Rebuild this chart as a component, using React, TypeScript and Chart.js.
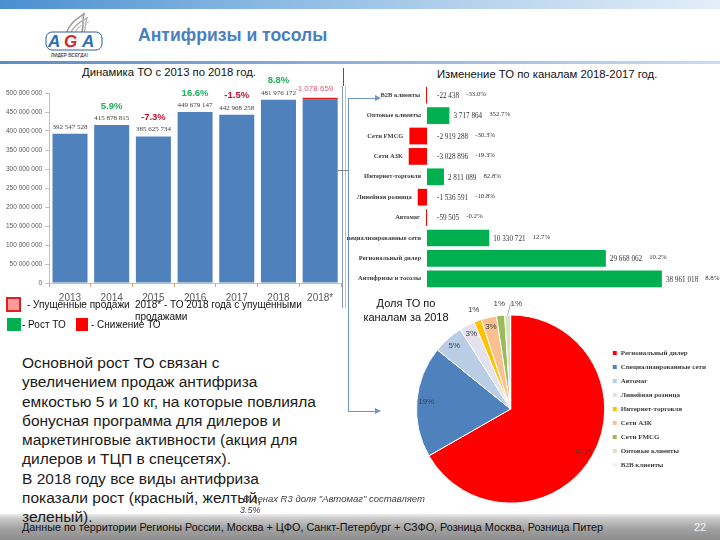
import React, { useEffect, useRef } from 'react';
import { Chart, registerables } from 'chart.js';

Chart.register(...registerables);

// ---------- DATA ----------
const years = ['2013', '2014', '2015', '2016', '2017', '2018', '2018*'];
const turnover = [392547528, 415878815, 385625734, 449679147, 442968258, 481976172, 481976172];
const lostSales = [null, null, null, null, null, null, 1078659];
const growthLabels = ['', '5.9%', '-7.3%', '16.6%', '-1.5%', '8.8%', ''];
const yMax = 500000000;
const yStep = 50000000;

const channels = [
  'B2B клиенты',
  'Оптовые клиенты',
  'Сети FMCG',
  'Сети АЗК',
  'Интернет-торговля',
  'Линейная розница',
  'Автомаг',
  'Специализированные сети',
  'Региональный дилер',
  'Антифризы и тосолы',
];
const channelDelta = [-22438, 3717864, -2919288, -3028896, 2811089, -1536591, -59505, 10330721, 29668062, 38961018];
const channelDeltaPct = ['-33.0%', '352.7%', '-30.3%', '-19.3%', '82.8%', '-10.8%', '-0.2%', '12.7%', '10.2%', '8.8%'];

const shareChannels = [
  'Региональный дилер',
  'Специализированные сети',
  'Автомаг',
  'Линейная розница',
  'Интернет-торговля',
  'Сети АЗК',
  'Сети FMCG',
  'Оптовые клиенты',
  'B2B клиенты',
];
const share2018 = [320.5, 91.7, 25.0, 12.7, 6.2, 12.7, 6.7, 4.8, 0.05];
const shareColors = ['#ff0000', '#4f81bd', '#b9cde5', '#e4e2ee', '#ffc000', '#fac090', '#9bbb59', '#d7e4bd', '#f2f2f2'];

const mainText = [
  'Основной рост ТО связан с',
  'увеличением продаж антифриза',
  'емкостью 5 и 10 кг, на которые повлияла',
  'бонусная программа для дилеров и',
  'маркетинговые активности (акция для',
  'дилеров и ТЦП в спецсетях).',
  'В 2018 году все виды антифриза',
  'показали рост (красный, желтый,',
  'зеленый).',
];

// ---------- HELPERS ----------
function fmt(n: number): string {
  const s = Math.abs(Math.round(n)).toString().replace(/\B(?=(\d{3})+(?!\d))/g, ' ');
  return (n < 0 ? '-' : '') + s;
}

const SANS = '"Liberation Sans", Arial, sans-serif';
const SERIF = '"Liberation Serif", "Times New Roman", serif';

// ---------- LEFT BAR CHART ----------
const barLabelsPlugin = {
  id: 'barLabels',
  afterDatasetsDraw(chart: any) {
    const ctx = chart.ctx;
    const m0 = chart.getDatasetMeta(0);
    const m1 = chart.getDatasetMeta(1);
    ctx.save();
    ctx.textAlign = 'center';
    ctx.textBaseline = 'middle';
    m0.data.forEach((bar: any, i: number) => {
      const lost = lostSales[i];
      if (lost) {
        const rb = m1.data[i];
        ctx.font = `8px ${SANS}`;
        ctx.fillStyle = '#e0566c';
        ctx.fillText('-' + fmt(lost), rb.x - 6, rb.y - 9);
        return;
      }
      ctx.font = `7px ${SERIF}`;
      ctx.fillStyle = '#404040';
      ctx.fillText(fmt(turnover[i]), bar.x, bar.y - 7);
      const g = growthLabels[i];
      if (g) {
        ctx.font = `bold 9.5px ${SANS}`;
        ctx.fillStyle = g.startsWith('-') ? '#c8102e' : '#1fae5b';
        ctx.fillText(g, bar.x, bar.y - 19);
      }
    });
    ctx.restore();
  },
};

function TurnoverChart() {
  const ref = useRef<HTMLCanvasElement>(null);
  useEffect(() => {
    if (!ref.current) return;
    const chart = new Chart(ref.current, {
      type: 'bar',
      data: {
        labels: years,
        datasets: [
          {
            label: 'ТО',
            data: turnover,
            backgroundColor: '#4f81bd',
            borderWidth: 0,
            barPercentage: 0.84,
            categoryPercentage: 1,
          },
          {
            label: 'Упущенные продажи',
            data: lostSales as any,
            backgroundColor: '#e02020',
            borderWidth: 0,
            minBarLength: 2,
            barPercentage: 0.84,
            categoryPercentage: 1,
          },
        ],
      },
      options: {
        responsive: false,
        animation: false,
        layout: { padding: { top: 25, left: 3, right: 4, bottom: 2 } },
        plugins: { legend: { display: false }, tooltip: { enabled: false } },
        scales: {
          x: {
            stacked: true,
            grid: { display: true, drawOnChartArea: false, drawTicks: true, tickLength: 4, color: '#d9a070' },
            border: { color: '#bfbfbf' },
            ticks: { color: '#595959', font: { size: 10, family: SANS }, padding: 5 },
          },
          y: {
            stacked: true,
            min: 0,
            max: yMax,
            grid: { display: true, drawOnChartArea: false, drawTicks: true, tickLength: 4, color: '#bfbfbf' },
            border: { color: '#bfbfbf' },
            ticks: {
              stepSize: yStep,
              color: '#595959',
              font: { size: 6.5, family: SANS },
              padding: 3,
              callback: (v: any) => fmt(Number(v)),
            },
          },
        },
      },
      plugins: [barLabelsPlugin],
    });
    return () => chart.destroy();
  }, []);
  return <canvas ref={ref} width={345} height={243} style={{ position: 'absolute', left: 0, top: 68 }} />;
}

// ---------- CHANNEL CHANGE (HORIZONTAL) ----------
const channelLabelsPlugin = {
  id: 'channelLabels',
  afterDatasetsDraw(chart: any) {
    const ctx = chart.ctx;
    const meta = chart.getDatasetMeta(0);
    const zero = chart.scales.x.getPixelForValue(0);
    ctx.save();
    ctx.textBaseline = 'middle';
    meta.data.forEach((bar: any, i: number) => {
      const v = channelDelta[i];
      const left = Math.min(zero, bar.x);
      const right = Math.max(zero, bar.x);
      ctx.font = `bold 6.5px ${SERIF}`;
      ctx.fillStyle = '#404040';
      ctx.textAlign = 'right';
      ctx.fillText(channels[i], left - 6, bar.y);
      ctx.textAlign = 'left';
      ctx.font = `7.2px ${SERIF}`;
      ctx.fillStyle = '#333333';
      const vx = v >= 0 ? right + 4 : zero + 10;
      const txt = fmt(v);
      ctx.fillText(txt, vx, bar.y + 1);
      const w = ctx.measureText(txt).width;
      ctx.font = `6.8px ${SERIF}`;
      ctx.fillText(channelDeltaPct[i], vx + w + 7, bar.y - 1);
    });
    ctx.restore();
  },
};

function ChannelChangeChart() {
  const ref = useRef<HTMLCanvasElement>(null);
  useEffect(() => {
    if (!ref.current) return;
    const chart = new Chart(ref.current, {
      type: 'bar',
      data: {
        labels: channels,
        datasets: [
          {
            data: channelDelta,
            backgroundColor: channelDelta.map((v) => (v >= 0 ? '#00b050' : '#ff0000')),
            borderWidth: 0,
            barPercentage: 0.82,
            categoryPercentage: 1,
            minBarLength: 1,
          },
        ],
      },
      options: {
        indexAxis: 'y',
        responsive: false,
        animation: false,
        layout: { padding: 0 },
        plugins: { legend: { display: false }, tooltip: { enabled: false } },
        scales: {
          x: { display: false, min: -13600000, max: 48600000 },
          y: { display: false },
        },
      },
      plugins: [channelLabelsPlugin],
    });
    return () => chart.destroy();
  }, []);
  return <canvas ref={ref} width={375} height={204} style={{ position: 'absolute', left: 345, top: 85 }} />;
}

// ---------- SHARE PIE ----------
const pieLabelsPlugin = {
  id: 'pieLabels',
  afterDatasetsDraw(chart: any) {
    const ctx = chart.ctx;
    const meta = chart.getDatasetMeta(0);
    const total = share2018.reduce((a, b) => a + b, 0);
    ctx.save();
    ctx.font = `8px ${SANS}`;
    ctx.fillStyle = '#404040';
    ctx.textAlign = 'center';
    ctx.textBaseline = 'middle';
    let lastSmallX = -Infinity;
    meta.data.forEach((arc: any, i: number) => {
      const p = Math.round((share2018[i] / total) * 100);
      if (p < 1) return;
      const { x, y, startAngle, endAngle, outerRadius } = arc.getProps(
        ['x', 'y', 'startAngle', 'endAngle', 'outerRadius'],
        true
      );
      const mid = (startAngle + endAngle) / 2;
      const small = share2018[i] / total < 0.02;
      const rr = small ? outerRadius * 1.12 : outerRadius * 0.9;
      let lx = x + Math.cos(mid) * rr;
      const ly = y + Math.sin(mid) * rr;
      if (small) {
        if (lx < lastSmallX + 17) {
          const ex = x + Math.cos(mid) * outerRadius;
          const ey = y + Math.sin(mid) * outerRadius;
          lx = lastSmallX + 17;
          ctx.strokeStyle = '#8c8c8c';
          ctx.lineWidth = 0.7;
          ctx.beginPath();
          ctx.moveTo(ex, ey);
          ctx.lineTo(lx - 6, ly + 1);
          ctx.lineTo(lx - 5, ly - 1);
          ctx.stroke();
        }
        lastSmallX = lx;
      }
      ctx.fillText(p + '%', lx, ly);
    });
    ctx.restore();
  },
};

function ShareChart() {
  const ref = useRef<HTMLCanvasElement>(null);
  useEffect(() => {
    if (!ref.current) return;
    const chart = new Chart(ref.current, {
      type: 'pie',
      data: {
        labels: shareChannels,
        datasets: [
          {
            data: share2018,
            backgroundColor: shareColors,
            borderColor: '#ffffff',
            borderWidth: 1,
          },
        ],
      },
      options: {
        responsive: false,
        animation: false,
        layout: { padding: { top: 18, bottom: 10, left: 2, right: 4 } },
        plugins: {
          tooltip: { enabled: false },
          legend: {
            position: 'right',
            align: 'center',
            labels: {
              boxWidth: 5,
              boxHeight: 5,
              padding: 7,
              color: '#404040',
              font: { size: 7, family: SERIF, weight: 'bold' },
            },
          },
        },
      },
      plugins: [pieLabelsPlugin],
    });
    return () => chart.destroy();
  }, []);
  return <canvas ref={ref} width={306} height={218} style={{ position: 'absolute', left: 414, top: 296 }} />;
}

// ---------- SLIDE ----------
const abs = (l: number, t: number, extra: React.CSSProperties = {}): React.CSSProperties => ({
  position: 'absolute',
  left: l,
  top: t,
  ...extra,
});

function Arrow({ x, y, len }: { x: number; y: number; len: number }) {
  return (
    <>
      <div style={abs(x, y, { width: len, height: 1, background: '#6f94c4' })} />
      <div
        style={abs(x + len - 1, y - 3, {
          width: 0,
          height: 0,
          borderTop: '3.5px solid transparent',
          borderBottom: '3.5px solid transparent',
          borderLeft: '6px solid #6f94c4',
        })}
      />
    </>
  );
}

export default function App() {
  useEffect(() => {
    document.body.style.margin = '0';
  }, []);
  return (
    <div
      style={{
        position: 'absolute',
        left: 0,
        top: 0,
        width: 720,
        height: 540,
        overflow: 'hidden',
        background: '#ffffff',
        fontFamily: SANS,
        color: '#111',
      }}
    >
      {/* top strip */}
      <div
        style={abs(0, 0, {
          width: 720,
          height: 9,
          background: 'linear-gradient(to right, #4a8fd0 0%, #86b7e2 35%, #bcd6ee 70%, #e3eef8 100%)',
        })}
      />
      {/* header line */}
      <div
        style={abs(0, 61, {
          width: 720,
          height: 3,
          background: 'linear-gradient(to right, #5d8cc4 0%, #8fb2d9 50%, #cadcef 100%)',
        })}
      />
      {/* logo */}
      <svg style={abs(44, 12)} width={60} height={48} viewBox="0 0 60 48">
        <path d="M22 22 C 26 10, 34 6, 40 2 C 38 8, 40 12, 38 20" fill="none" stroke="#9a9a9a" strokeWidth="1.6" />
        <path d="M26 22 C 30 13, 37 9, 43 6 C 41 11, 42 15, 40 21" fill="none" stroke="#b5b5b5" strokeWidth="1.4" />
        <path d="M30 22 C 33 15, 39 12, 45 10" fill="none" stroke="#c8c8c8" strokeWidth="1.2" />
        <rect x="2" y="20" width="56" height="18" rx="6" fill="#ffffff" stroke="#2d5f9e" strokeWidth="1" />
        <text x="4" y="35" fontSize="17" fontWeight="900" fontStyle="italic" fontFamily={SANS} fill="#2e6db4">
          A
        </text>
        <text x="20" y="35" fontSize="17" fontWeight="900" fontStyle="italic" fontFamily={SANS} fill="#d7262b">
          G
        </text>
        <text x="38" y="35" fontSize="17" fontWeight="900" fontStyle="italic" fontFamily={SANS} fill="#2e6db4">
          A
        </text>
        <text x="7" y="45" fontSize="4.6" fontWeight="bold" fontFamily={SANS} fill="#555">
          ЛИДЕР ВСЕГДА!
        </text>
      </svg>
      <div style={abs(138, 25, { fontSize: 17.6, fontWeight: 'bold', color: '#4a7ebf', whiteSpace: 'nowrap' })}>
        Антифризы и тосолы
      </div>

      {/* titles */}
      <div style={abs(82, 66, { fontSize: 11.3, whiteSpace: 'nowrap' })}>Динамика ТО с 2013 по 2018 год.</div>
      <div style={abs(437, 68, { fontSize: 11.3, whiteSpace: 'nowrap' })}>Изменение ТО по каналам 2018-2017 год.</div>

      <TurnoverChart />
      <ChannelChangeChart />
      <ShareChart />

      {/* connector lines */}
      <div style={abs(343, 68, { width: 1, height: 18, background: '#555' })} />
      <div style={abs(342, 86, { width: 1, height: 222, background: '#8a9bb3' })} />
      <div style={abs(345, 86, { width: 1, height: 222, background: '#b8c4d4' })} />
      <div style={abs(336, 170, { width: 12, height: 1, background: '#7a8aa0' })} />
      <div style={abs(348, 98, { width: 1, height: 314, background: '#6f94c4' })} />
      <Arrow x={348} y={98} len={28} />
      <Arrow x={348} y={411} len={28} />

      {/* pie title */}
      <div style={abs(360, 296, { width: 92, textAlign: 'center', fontSize: 11, lineHeight: '14px' })}>
        Доля ТО по
        <br />
        каналам за 2018
      </div>

      {/* left legend */}
      <div style={abs(6, 297, { width: 11, height: 11, background: '#ff9a9a', border: '2px solid #e02020' })} />
      <div style={abs(27, 299, { fontSize: 10, whiteSpace: 'nowrap' })}>- Упущенные продажи</div>
      <div style={abs(135, 299, { fontSize: 10, lineHeight: '12px', width: 170 })}>
        2018* - ТО 2018 года с упущенными
        <br />
        продажами
      </div>
      <div style={abs(7, 318, { width: 14, height: 13, background: '#00b050' })} />
      <div style={abs(22, 319, { fontSize: 10, whiteSpace: 'nowrap' })}>- Рост ТО</div>
      <div style={abs(76, 318, { width: 12, height: 13, background: '#ff0000' })} />
      <div style={abs(91, 319, { fontSize: 10, whiteSpace: 'nowrap' })}>- Снижение ТО</div>

      {/* footer */}
      <div
        style={abs(0, 514, {
          width: 720,
          height: 26,
          background: 'linear-gradient(to bottom, #eeeeee 0%, #c9c9c9 18%, #a3a3a3 55%, #8c8c8c 100%)',
        })}
      />
      <div style={abs(22, 521, { fontSize: 10.8, whiteSpace: 'nowrap', color: '#111' })}>
        Данные по территории Регионы России, Москва + ЦФО, Санкт-Петербург + СЗФО, Розница Москва, Розница Питер
      </div>
      <div style={abs(694, 521, { fontSize: 11, color: '#f4f4f4' })}>22</div>

      {/* main text */}
      <div style={abs(22, 353, { fontSize: 15.5, lineHeight: '19.3px', color: '#1a1a1a', whiteSpace: 'nowrap' })}>
        {mainText.map((l, i) => (
          <div key={i}>{l}</div>
        ))}
      </div>

      {/* note */}
      <div style={abs(243, 493, { fontSize: 9.5, fontStyle: 'italic', color: '#404040', whiteSpace: 'nowrap', lineHeight: '12px' })}>
        В ценах R3 доля "Автомаг" составляет
      </div>
      <div style={abs(240, 505, { fontSize: 9, fontStyle: 'italic', color: '#404040' })}>3.5%</div>
    </div>
  );
}
